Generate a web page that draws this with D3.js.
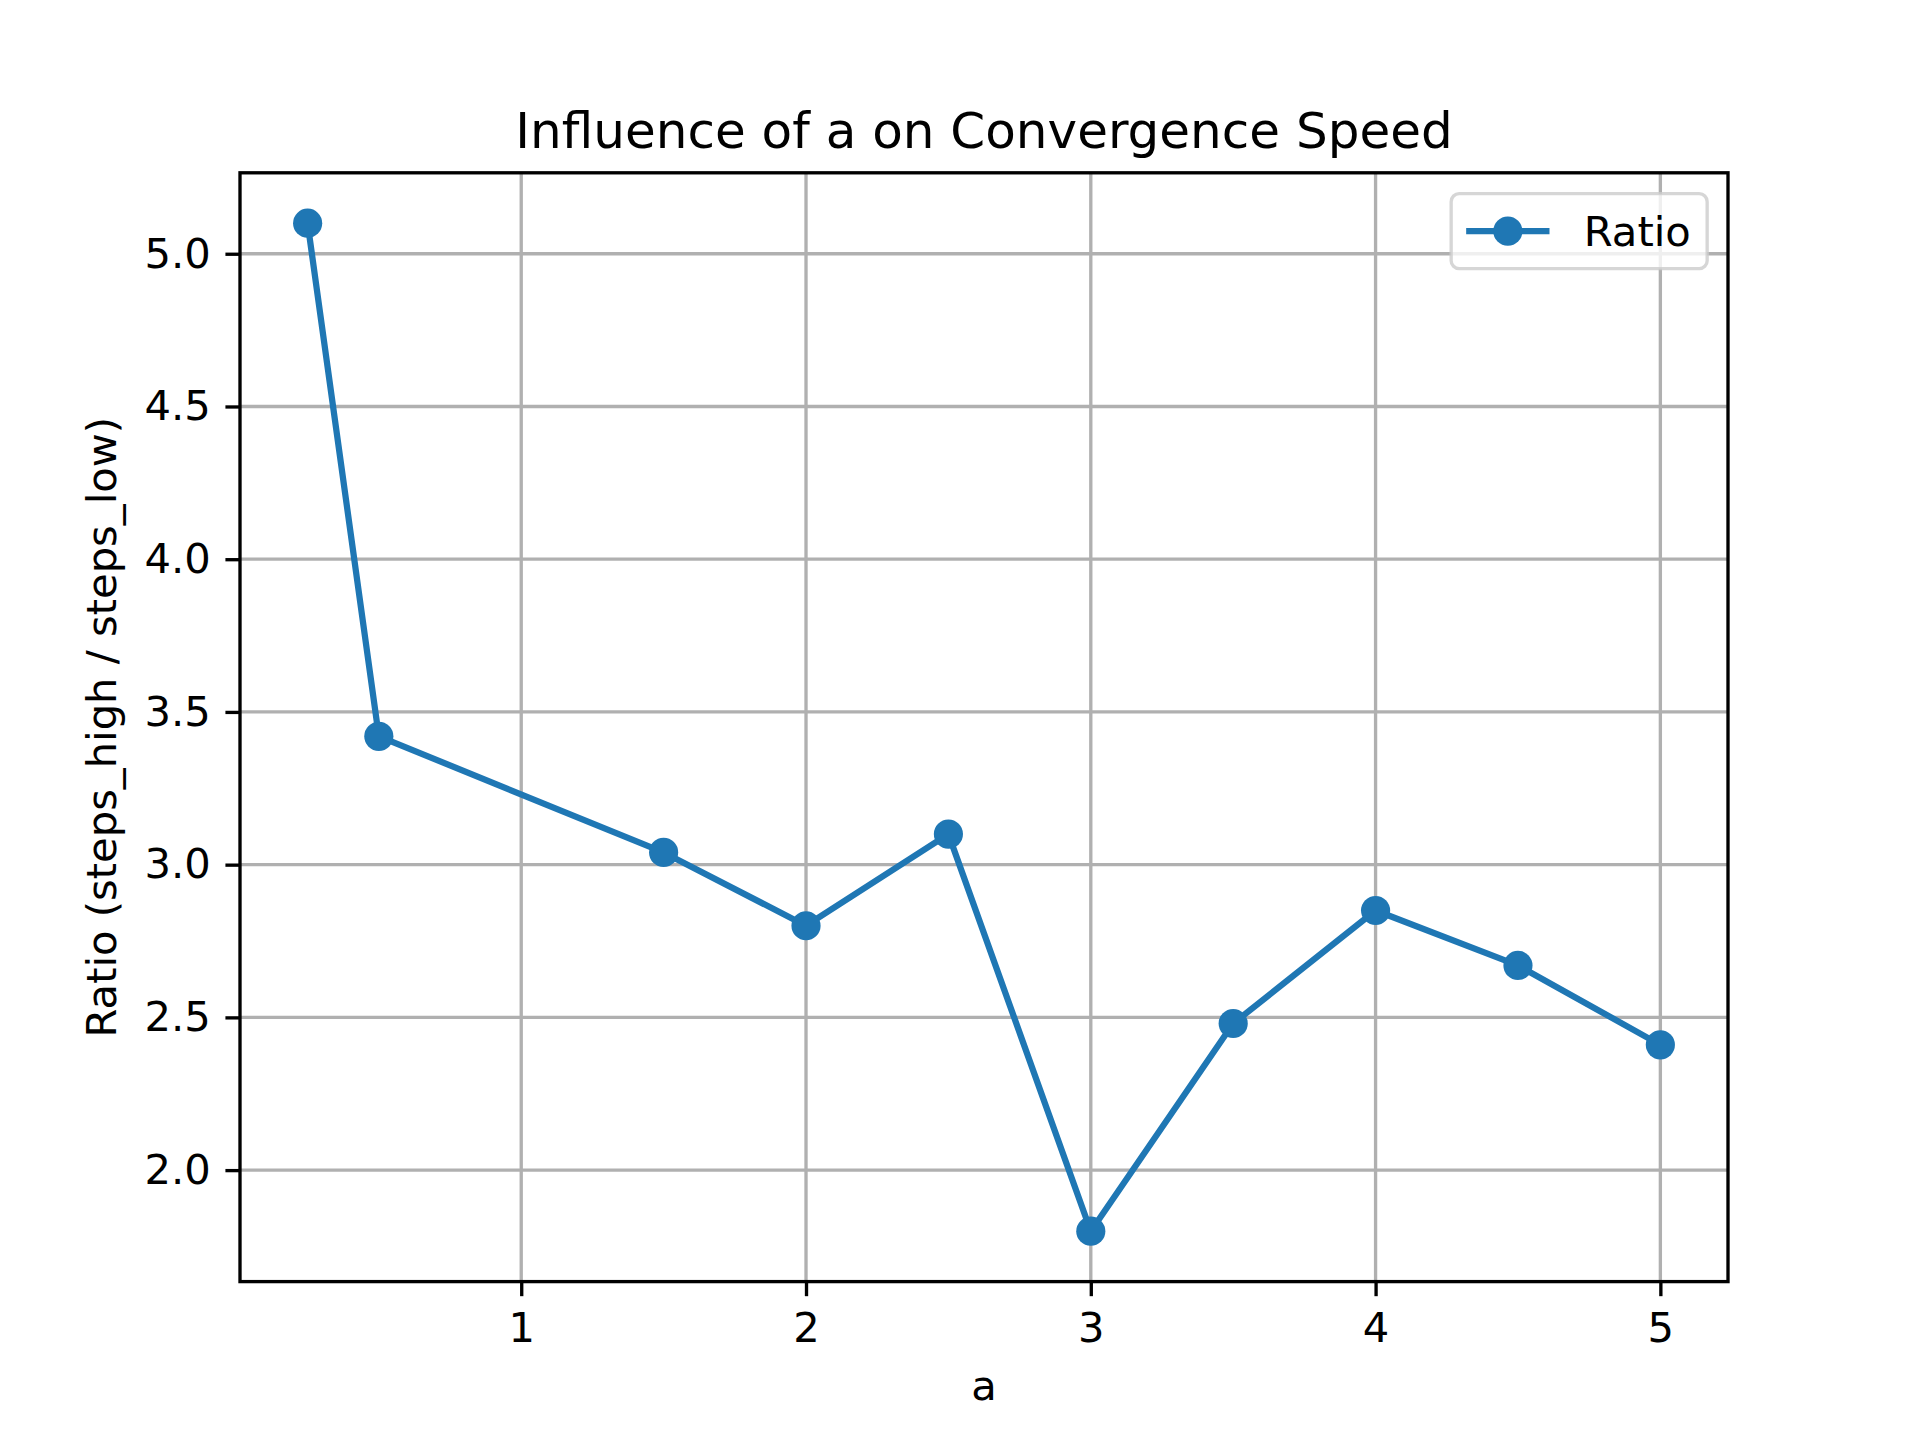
<!DOCTYPE html>
<html>
<head>
<meta charset="utf-8">
<script src="https://cdn.jsdelivr.net/npm/d3@7"></script>
<style>
  body { margin: 0; background: #ffffff; }
  svg { display: block; }
  text { font-family: "DejaVu Sans", sans-serif; fill: #000; }
</style>
</head>
<body>
<script>
// values
const aValues = [0.25, 0.5, 1.5, 2, 2.5, 3, 3.5, 4, 4.5, 5];
const ratioValues = [5.10, 3.42, 3.04, 2.80, 3.10, 1.80, 2.48, 2.85, 2.67, 2.41];
const xTicks = [1, 2, 3, 4, 5];
const yTicks = [2.0, 2.5, 3.0, 3.5, 4.0, 4.5, 5.0];

const width = 1920;
const height = 1440;
const margin = { left: 240, right: 192, top: 172.8, bottom: 158.4 };
const pt = 300 / 72;  // matplotlib points -> px at 300 dpi
const markerR = 3.5 * pt; // 6pt marker + 1pt edge

const svg = d3.select("body")
    .append("svg")
    .attr("width", width)
    .attr("height", height);

// 5% margin like matplotlib autoscale
const xMin = d3.min(aValues), xMax = d3.max(aValues);
const yMin = d3.min(ratioValues), yMax = d3.max(ratioValues);
const xPad = (xMax - xMin) * 0.05, yPad = (yMax - yMin) * 0.05;

const x = d3.scaleLinear()
    .domain([xMin - xPad, xMax + xPad])
    .range([margin.left, width - margin.right]);
const y = d3.scaleLinear()
    .domain([yMin - yPad, yMax + yPad])
    .range([height - margin.bottom, margin.top]);

const plotW = width - margin.left - margin.right;
const plotH = height - margin.top - margin.bottom;

// grid
svg.append("g")
    .selectAll("line")
    .data(xTicks)
    .enter().append("line")
    .attr("x1", d => x(d)).attr("x2", d => x(d))
    .attr("y1", margin.top).attr("y2", height - margin.bottom)
    .attr("stroke", "#b0b0b0")
    .attr("stroke-width", 0.8 * pt);

svg.append("g")
    .selectAll("line")
    .data(yTicks)
    .enter().append("line")
    .attr("y1", d => y(d)).attr("y2", d => y(d))
    .attr("x1", margin.left).attr("x2", width - margin.right)
    .attr("stroke", "#b0b0b0")
    .attr("stroke-width", 0.8 * pt);

// data line + markers
const line = d3.line()
    .x((d, i) => x(aValues[i]))
    .y(d => y(d));

svg.append("path")
    .datum(ratioValues)
    .attr("d", line)
    .attr("fill", "none")
    .attr("stroke", "#1f77b4")
    .attr("stroke-width", 1.5 * pt)
    .attr("stroke-linejoin", "round");

svg.append("g")
    .selectAll("circle")
    .data(ratioValues)
    .enter().append("circle")
    .attr("cx", (d, i) => x(aValues[i]))
    .attr("cy", d => y(d))
    .attr("r", markerR)
    .attr("fill", "#1f77b4");

// axes
const tickLen = 3.5 * pt;
const xAxis = d3.axisBottom(x)
    .tickValues(xTicks)
    .tickFormat(d3.format("d"))
    .tickSize(tickLen)
    .tickPadding(3.5 * pt);
const yAxis = d3.axisLeft(y)
    .tickValues(yTicks)
    .tickFormat(d3.format(".1f"))
    .tickSize(tickLen)
    .tickPadding(3.5 * pt);

const gx = svg.append("g")
    .attr("transform", `translate(0,${height - margin.bottom})`)
    .call(xAxis);
const gy = svg.append("g")
    .attr("transform", `translate(${margin.left},0)`)
    .call(yAxis);

[gx, gy].forEach(g => {
    g.select(".domain").remove();
    g.selectAll(".tick line").attr("stroke", "#000").attr("stroke-width", 0.8 * pt);
    g.selectAll(".tick text")
        .style("font-family", "DejaVu Sans")
        .style("font-size", (10 * pt) + "px")
        .attr("fill", "#000");
});
gx.selectAll(".tick text").attr("dy", "0.76em");

// spines
svg.append("rect")
    .attr("x", margin.left)
    .attr("y", margin.top)
    .attr("width", plotW)
    .attr("height", plotH)
    .attr("fill", "none")
    .attr("stroke", "#000")
    .attr("stroke-width", 0.8 * pt);

// title and labels
svg.append("text")
    .attr("x", margin.left + plotW / 2)
    .attr("y", margin.top - 6 * pt)
    .attr("text-anchor", "middle")
    .style("font-size", (12 * pt) + "px")
    .text("Influence of a on Convergence Speed");

svg.append("text")
    .attr("x", margin.left + plotW / 2)
    .attr("y", 1400)
    .attr("text-anchor", "middle")
    .style("font-size", (10 * pt) + "px")
    .text("a");

svg.append("text")
    .attr("transform", `translate(116,${margin.top + plotH / 2}) rotate(-90)`)
    .attr("text-anchor", "middle")
    .style("font-size", (10 * pt) + "px")
    .text("Ratio (steps_high / steps_low)");

// legend
const legW = 256, legH = 75;
const legX = width - margin.right - 0.5 * 10 * pt - legW;
const legY = margin.top + 0.5 * 10 * pt;
const legend = svg.append("g").attr("transform", `translate(${legX},${legY})`);

legend.append("rect")
    .attr("width", legW)
    .attr("height", legH)
    .attr("rx", 8)
    .attr("fill", "#ffffff")
    .attr("fill-opacity", 0.8)
    .attr("stroke", "#cccccc")
    .attr("stroke-opacity", 0.8)
    .attr("stroke-width", 0.8 * pt);

legend.append("line")
    .attr("x1", 15).attr("x2", 15 + 2 * 10 * pt)
    .attr("y1", legH / 2).attr("y2", legH / 2)
    .attr("stroke", "#1f77b4")
    .attr("stroke-width", 1.5 * pt);

legend.append("circle")
    .attr("cx", 15 + 10 * pt)
    .attr("cy", legH / 2)
    .attr("r", markerR)
    .attr("fill", "#1f77b4");

legend.append("text")
    .attr("x", 16 + 2 * 10 * pt + 0.8 * 10 * pt)
    .attr("y", legH / 2)
    .attr("dy", "0.36em")
    .style("font-size", (10 * pt) + "px")
    .text("Ratio");
</script>
</body>
</html>
